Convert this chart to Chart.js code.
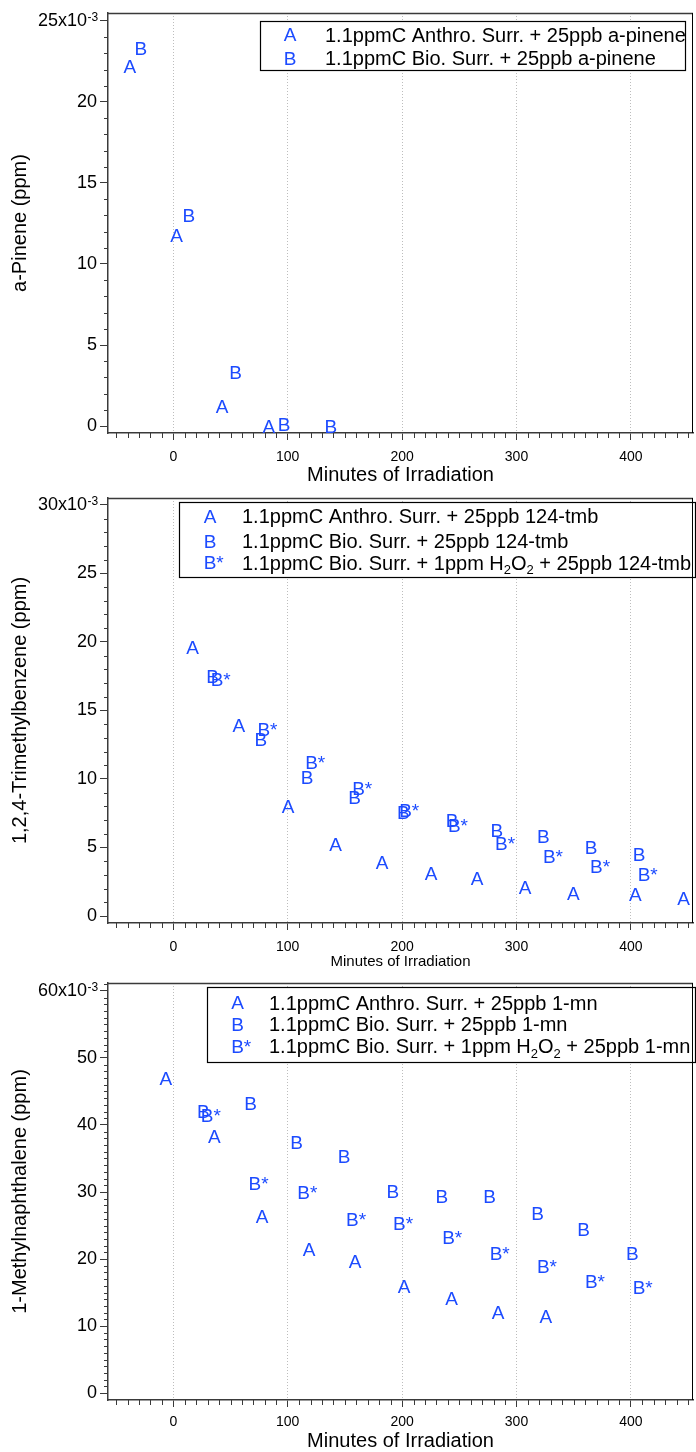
<!DOCTYPE html>
<html>
<head>
<meta charset="utf-8">
<script src="https://cdn.jsdelivr.net/npm/chart.js@4/dist/chart.umd.min.js"></script>
<style>
html,body{margin:0;padding:0;background:#fff;}
body{width:696px;height:1452px;position:relative;overflow:hidden;}
canvas{position:absolute;left:0;}
</style>
</head>
<body>
<canvas id="c1" width="696" height="487" style="top:0px;width:696px;height:487px"></canvas>
<canvas id="c2" width="696" height="482" style="top:487px;width:696px;height:482px"></canvas>
<canvas id="c3" width="696" height="483" style="top:969px;width:696px;height:483px"></canvas>
<script>
// ================= DATA =================
// x: minutes of irradiation, y: concentration in ppm
// Panel 1 : a-pinene
const p1TimeA  = [-38.0, 2.8, 42.7, 83.5];
const p1ValA   = [0.0222, 0.0118, 0.0012, 0.0000];
const p1TimeB  = [-28.4, 13.5, 54.4, 96.9, 137.7];
const p1ValB   = [0.0233, 0.0130, 0.0033, 0.0001, 0.0000];

// Panel 2 : 1,2,4-trimethylbenzene
const p2TimeA  = [16.8, 57.3, 100.3, 141.8, 182.4, 225.3, 265.6, 307.5, 349.8, 404.0, 446.0];
const p2ValA   = [0.0196, 0.0139, 0.0080, 0.00525, 0.0039, 0.00316, 0.00275, 0.00209, 0.00166, 0.0016, 0.00129];
const p2TimeB  = [34.3, 76.5, 117.0, 158.4, 201.0, 243.6, 282.9, 323.4, 365.1, 407.1];
const p2ValB   = [0.0175, 0.0129, 0.0101, 0.00866, 0.00757, 0.00696, 0.00623, 0.00579, 0.00499, 0.00453];
const p2TimeBs = [41.4, 82.3, 124.0, 165.1, 206.2, 248.8, 290.0, 331.9, 373.0, 414.7];
const p2ValBs  = [0.0173, 0.0136, 0.0112, 0.00932, 0.00774, 0.00664, 0.00531, 0.00433, 0.0036, 0.00307];

// Panel 3 : 1-methylnaphthalene
const p3TimeA  = [-6.6, 35.8, 77.6, 118.6, 159.0, 201.8, 243.2, 284.0, 325.7];
const p3ValA   = [0.0470, 0.0383, 0.0264, 0.0214, 0.0197, 0.0160, 0.0142, 0.0120, 0.0114];
const p3TimeB  = [26.2, 67.5, 107.7, 149.3, 191.9, 234.7, 276.4, 318.4, 358.6, 401.2];
const p3ValB   = [0.0420, 0.0432, 0.0374, 0.0354, 0.0301, 0.0294, 0.0294, 0.0268, 0.0244, 0.0209];
const p3TimeBs = [32.8, 74.6, 117.2, 159.7, 200.9, 243.8, 285.3, 326.6, 368.6, 410.3];
const p3ValBs  = [0.0415, 0.0313, 0.0300, 0.0259, 0.0254, 0.0233, 0.0209, 0.0189, 0.0167, 0.0158];

// Markers
const markerA = 'A', markerB = 'B', markerBs = 'B*';

// Tick values / labels
const xTickVals   = [0, 100, 200, 300, 400];
const xTickLabels = ['0', '100', '200', '300', '400'];
const y1TickVals   = [0, 0.005, 0.010, 0.015, 0.020, 0.025];
const y1TickLabels = ['0', '5', '10', '15', '20', '25x10'];
const y2TickVals   = [0, 0.005, 0.010, 0.015, 0.020, 0.025, 0.030];
const y2TickLabels = ['0', '5', '10', '15', '20', '25', '30x10'];
const y3TickVals   = [0, 0.010, 0.020, 0.030, 0.040, 0.050, 0.060];
const y3TickLabels = ['0', '10', '20', '30', '40', '50', '60x10'];
const yExponent = '-3';

// Titles
const xTitle  = 'Minutes of Irradiation';
const y1Title = 'a-Pinene (ppm)';
const y2Title = '1,2,4-Trimethylbenzene (ppm)';
const y3Title = '1-Methylnaphthalene (ppm)';

// Legend texts ("_2" = subscript 2)
const p1Legend = ['1.1ppmC Anthro. Surr. + 25ppb a-pinene', '1.1ppmC Bio. Surr. + 25ppb a-pinene'];
const p2Legend = ['1.1ppmC Anthro. Surr. + 25ppb 124-tmb', '1.1ppmC Bio. Surr. + 25ppb 124-tmb', '1.1ppmC Bio. Surr. + 1ppm H_2O_2 + 25ppb 124-tmb'];
const p3Legend = ['1.1ppmC Anthro. Surr. + 25ppb 1-mn', '1.1ppmC Bio. Surr. + 25ppb 1-mn', '1.1ppmC Bio. Surr. + 1ppm H_2O_2 + 25ppb 1-mn'];

// ================= STYLE =================
const FONT = '"Liberation Sans", Arial, Helvetica, sans-serif';
const BLUE = '#1c4bff';
const AXIS = '#3a3a3a';
const MARK_SIZE = 19;
Chart.defaults.font.family = FONT;
Chart.defaults.color = '#000';

function drawRich(ctx, text, x, yBase, size) {
  const parts = text.split(/(_\d)/);
  parts.forEach(p => {
    if (!p) return;
    if (p[0] === '_') {
      const s = Math.round(size * 0.65);
      ctx.font = s + 'px ' + FONT;
      ctx.fillText(p.slice(1), x, yBase + size * 0.22);
      x += ctx.measureText(p.slice(1)).width;
    } else {
      ctx.font = size + 'px ' + FONT;
      ctx.fillText(p, x, yBase);
      x += ctx.measureText(p).width;
    }
  });
}

const textMarkers = {
  id: 'textMarkers',
  afterDatasetsDraw(chart) {
    const ctx = chart.ctx;
    chart.data.datasets.forEach((ds, i) => {
      const meta = chart.getDatasetMeta(i);
      ctx.save();
      ctx.font = MARK_SIZE + 'px ' + FONT;
      ctx.fillStyle = BLUE;
      ctx.textAlign = 'center';
      ctx.textBaseline = 'alphabetic';
      meta.data.forEach(pt => ctx.fillText(ds.marker, pt.x, pt.y + 0.358 * MARK_SIZE));
      ctx.restore();
    });
  }
};

const boxLegend = {
  id: 'boxLegend',
  afterDraw(chart, args, o) {
    if (!o || !o.box) return;
    const ctx = chart.ctx;
    const [l, t, r, b] = o.box;
    ctx.save();
    ctx.fillStyle = '#fff';
    ctx.fillRect(l, t, r - l, b - t);
    ctx.strokeStyle = '#000';
    ctx.lineWidth = 1.2;
    ctx.strokeRect(l + 0.5, t + 0.5, r - l - 1, b - t - 1);
    chart.data.datasets.forEach((ds, i) => {
      const y = o.rowY[i];
      ctx.font = MARK_SIZE + 'px ' + FONT;
      ctx.fillStyle = BLUE;
      ctx.textAlign = 'left';
      ctx.textBaseline = 'alphabetic';
      const w0 = ctx.measureText(ds.marker[0]).width;
      ctx.fillText(ds.marker, o.markX - w0 / 2, y + 0.358 * MARK_SIZE);
      ctx.fillStyle = '#000';
      drawRich(ctx, ds.label, o.textX, y + 0.358 * 20, 20);
    });
    ctx.restore();
  }
};

const frame = {
  id: 'frame',
  afterDraw(chart, args, o) {
    const ctx = chart.ctx;
    const ca = chart.chartArea;
    const xs = chart.scales.x, ys = chart.scales.y;
    ctx.save();
    // top & right border
    ctx.strokeStyle = AXIS; ctx.lineWidth = 1.5;
    ctx.beginPath(); ctx.moveTo(ca.left, ca.top + 0.5); ctx.lineTo(ca.right, ca.top + 0.5); ctx.stroke();
    ctx.strokeStyle = '#000'; ctx.lineWidth = 1;
    ctx.beginPath(); ctx.moveTo(ca.right - 0.5, ca.top); ctx.lineTo(ca.right - 0.5, ca.bottom); ctx.stroke();
    // minor ticks
    ctx.strokeStyle = AXIS; ctx.lineWidth = 1;
    ctx.beginPath();
    for (let k = -5; k <= 45; k++) {
      if (k % 10 === 0) continue;
      const px = Math.round(xs.getPixelForValue(k * 10)) + 0.5;
      ctx.moveTo(px, ca.bottom); ctx.lineTo(px, ca.bottom + 5);
    }
    for (let k = 1; k * o.yMinor <= ys.max; k++) {
      if (k % o.yMajorK === 0) continue;
      const py = Math.round(ys.getPixelForValue(k * o.yMinor)) + 0.5;
      ctx.moveTo(ca.left - 4, py); ctx.lineTo(ca.left, py);
    }
    ctx.stroke();
    // exponent on the top y tick label
    const topVal = o.yTicks[o.yTicks.length - 1];
    const py = ys.getPixelForValue(topVal);
    ctx.font = '18px ' + FONT;
    const sp = ctx.measureText('  ').width;
    const xr = ca.left - 8 - 3 - sp;
    ctx.font = '12px ' + FONT;
    ctx.fillStyle = '#000';
    ctx.textAlign = 'left';
    ctx.textBaseline = 'alphabetic';
    ctx.fillText(yExponent, xr + 0.5, py + 0.5);
    ctx.restore();
  }
};

function makeChart(id, cfg) {
  return new Chart(document.getElementById(id), {
    type: 'scatter',
    data: {
      datasets: cfg.series.map(s => ({
        label: s.legend, marker: s.marker,
        data: s.x.map((x, i) => ({x: x, y: s.y[i]})),
        pointRadius: 0, pointHoverRadius: 0, showLine: false
      }))
    },
    options: {
      responsive: false, animation: false, devicePixelRatio: 1,
      events: [],
      layout: {padding: {left: 0, right: 3, top: cfg.top, bottom: 0}},
      plugins: {
        legend: {display: false}, tooltip: {enabled: false},
        boxLegend: cfg.legend,
        frame: {yMinor: 0.001, yMajorK: cfg.yMajorK, yTicks: cfg.yTicks}
      },
      scales: {
        x: {
          type: 'linear', min: -57.1, max: 454.3,
          afterBuildTicks: s => { s.ticks = xTickVals.map(v => ({value: v})); },
          afterFit: s => { s.height = cfg.xh; s.paddingLeft = 0; s.paddingRight = 0; s.paddingTop = 0; s.paddingBottom = 0; },
          ticks: {callback: (v, i) => xTickLabels[i], font: {size: 14}, padding: cfg.xpad, maxRotation: 0, autoSkip: false, color: '#000'},
          grid: {color: '#bdbdbd', lineWidth: 1, tickColor: AXIS, tickLength: 7, tickWidth: 1},
          border: {display: true, color: AXIS, width: 1.5, dash: [1, 2]},
          title: {display: true, text: xTitle, font: {size: cfg.xtSize}, padding: {top: 0, bottom: cfg.xtPad}, color: '#000'}
        },
        y: {
          type: 'linear', min: cfg.ymin, max: cfg.ymax,
          afterBuildTicks: s => { s.ticks = cfg.yTicks.map(v => ({value: v})); },
          afterFit: s => { s.width = 108; s.paddingTop = 0; s.paddingBottom = 0; s.paddingLeft = 0; s.paddingRight = 0; },
          ticks: {callback: (v, i) => cfg.yLabels[i] + (i === cfg.yLabels.length - 1 ? '  ' : ''), font: {size: 18}, padding: 3, autoSkip: false, color: '#000'},
          grid: {drawOnChartArea: false, color: AXIS, tickColor: AXIS, tickLength: 8, tickWidth: 1},
          border: {display: true, color: AXIS, width: 1.5},
          title: {display: true, text: cfg.yTitle, font: {size: 20}, padding: {top: 8, bottom: 0}, color: '#000'}
        }
      }
    },
    plugins: [textMarkers, boxLegend, frame]
  });
}

makeChart('c1', {
  top: 13, xh: 54, xpad: 9, xtSize: 20, xtPad: 0,
  ymin: -0.00043, ymax: 0.02549, yTicks: y1TickVals, yLabels: y1TickLabels, yMajorK: 5, yTitle: y1Title,
  series: [
    {x: p1TimeA, y: p1ValA, marker: markerA, legend: p1Legend[0]},
    {x: p1TimeB, y: p1ValB, marker: markerB, legend: p1Legend[1]}
  ],
  legend: {box: [260, 21, 686, 71], markX: 290, textX: 325, rowY: [34.5, 58.3]}
});

makeChart('c2', {
  top: 11, xh: 46, xpad: 9, xtSize: 15, xtPad: -2,
  ymin: -0.00051, ymax: 0.0305, yTicks: y2TickVals, yLabels: y2TickLabels, yMajorK: 5, yTitle: y2Title,
  series: [
    {x: p2TimeA, y: p2ValA, marker: markerA, legend: p2Legend[0]},
    {x: p2TimeB, y: p2ValB, marker: markerB, legend: p2Legend[1]},
    {x: p2TimeBs, y: p2ValBs, marker: markerBs, legend: p2Legend[2]}
  ],
  legend: {box: [179, 15, 696, 91], markX: 210, textX: 242, rowY: [28.8, 53.8, 75.5]}
});

makeChart('c3', {
  top: 14, xh: 52, xpad: 7, xtSize: 20, xtPad: -1,
  ymin: -0.00104, ymax: 0.06119, yTicks: y3TickVals, yLabels: y3TickLabels, yMajorK: 10, yTitle: y3Title,
  series: [
    {x: p3TimeA, y: p3ValA, marker: markerA, legend: p3Legend[0]},
    {x: p3TimeB, y: p3ValB, marker: markerB, legend: p3Legend[1]},
    {x: p3TimeBs, y: p3ValBs, marker: markerBs, legend: p3Legend[2]}
  ],
  legend: {box: [207, 18, 696, 94], markX: 237.5, textX: 269, rowY: [33.5, 55, 77]}
});
</script>
</body>
</html>
